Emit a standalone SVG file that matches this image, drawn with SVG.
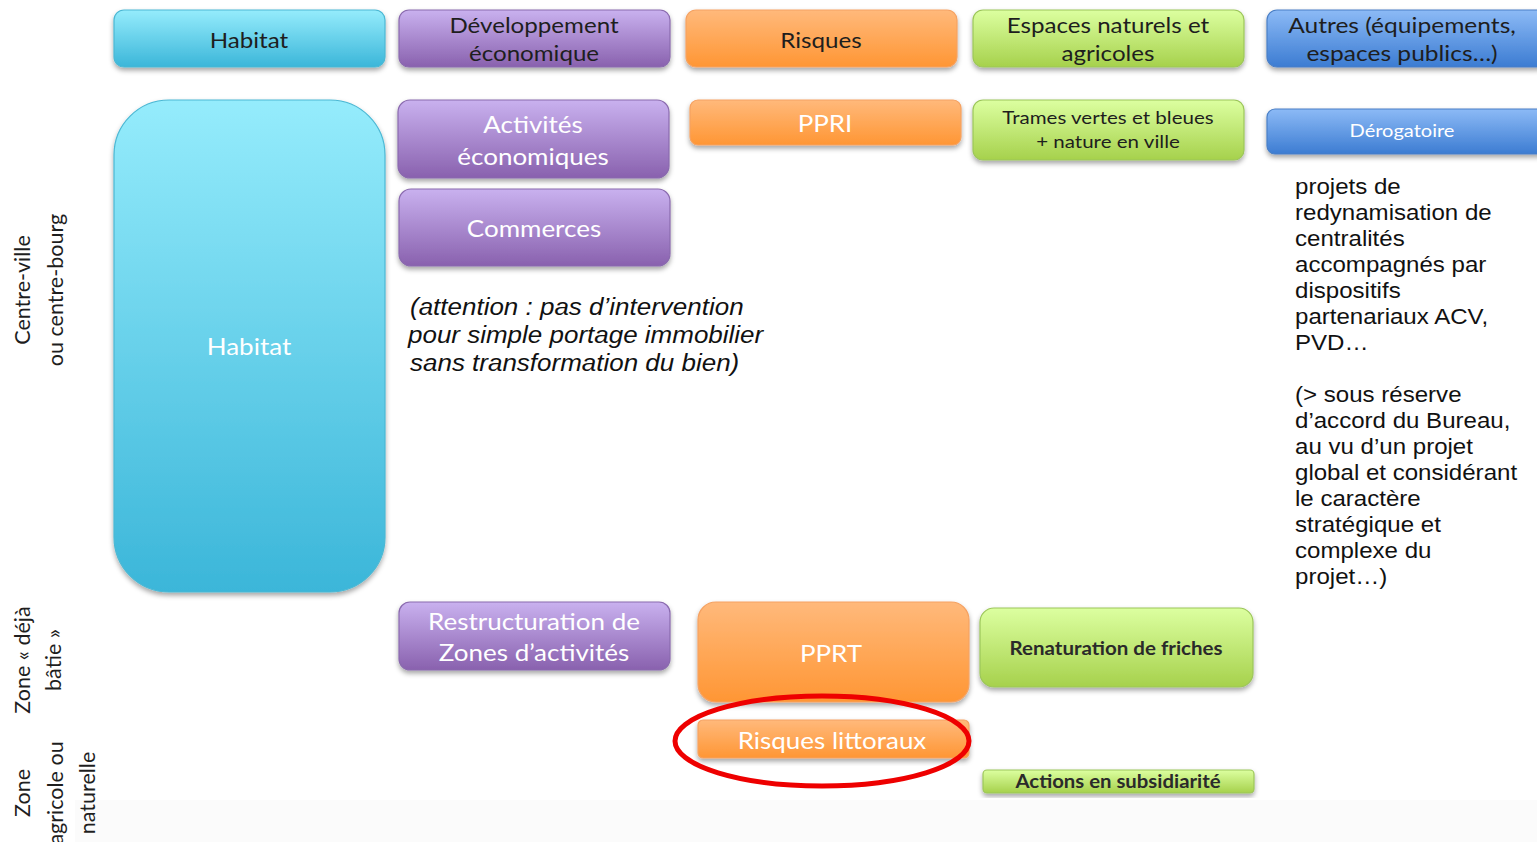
<svg xmlns="http://www.w3.org/2000/svg" width="1537" height="842" viewBox="0 0 1537 842">
<defs>
<linearGradient id="gCyan" x1="0" y1="0" x2="0" y2="1"><stop offset="0" stop-color="#95ecfc"/><stop offset="1" stop-color="#3bb6d9"/></linearGradient>
<linearGradient id="gPurple" x1="0" y1="0" x2="0" y2="1"><stop offset="0" stop-color="#c9b1ef"/><stop offset="1" stop-color="#8961ae"/></linearGradient>
<linearGradient id="gOrange" x1="0" y1="0" x2="0" y2="1"><stop offset="0" stop-color="#ffb97b"/><stop offset="1" stop-color="#ff9634"/></linearGradient>
<linearGradient id="gGreen" x1="0" y1="0" x2="0" y2="1"><stop offset="0" stop-color="#dcffa0"/><stop offset="1" stop-color="#a6d14c"/></linearGradient>
<linearGradient id="gBlue" x1="0" y1="0" x2="0" y2="1"><stop offset="0" stop-color="#8cbaf6"/><stop offset="1" stop-color="#3c7cd2"/></linearGradient>
<filter id="sh" x="-10%" y="-10%" width="120%" height="130%"><feDropShadow dx="0" dy="3" stdDeviation="2.5" flood-color="#000" flood-opacity="0.35"/></filter>
</defs>
<style>
.cy{fill:url(#gCyan);stroke:#4bb8d4;stroke-width:1.2;filter:url(#sh)}
.pu{fill:url(#gPurple);stroke:#8a6aae;stroke-width:1.2;filter:url(#sh)}
.or{fill:url(#gOrange);stroke:#f5a262;stroke-width:1.2;filter:url(#sh)}
.gr{fill:url(#gGreen);stroke:#9cc65a;stroke-width:1.2;filter:url(#sh)}
.bl{fill:url(#gBlue);stroke:#4a7fc6;stroke-width:1.2;filter:url(#sh)}
.t{font-family:Lato,"Open Sans","Liberation Sans",sans-serif;text-anchor:middle;dominant-baseline:central}
.dk{fill:#1e1e1e;font-size:21px}
.wh{fill:#ffffff;font-size:23px}
.side{font-family:Lato,"Open Sans","Liberation Sans",sans-serif;font-size:21.5px;fill:#1e1e1e;text-anchor:middle;dominant-baseline:central}
.note{font-family:"Liberation Sans",Arial,sans-serif;fill:#111;font-size:21.5px}
.note2{font-family:"Liberation Sans",Arial,sans-serif;fill:#111;font-size:23px;font-style:italic}
</style>
<rect x="75" y="800" width="1462" height="42" fill="#fbfbfb"/>

<g id="side-labels">
<text class="side" transform="translate(22,290) rotate(-90)">Centre-ville</text>
<text class="side" transform="translate(55,290) rotate(-90)">ou centre-bourg</text>
<text class="side" transform="translate(22,660) rotate(-90)">Zone « déjà</text>
<text class="side" transform="translate(53,660) rotate(-90)">bâtie »</text>
<text class="side" transform="translate(22,793) rotate(-90)">Zone</text>
<text class="side" transform="translate(55,793) rotate(-90)">agricole ou</text>
<text class="side" transform="translate(87,793) rotate(-90)">naturelle</text>
</g>

<g id="h-habitat"><rect class="cy" x="114" y="10" width="271" height="57" rx="10"/><text class="t dk" transform="translate(249,40) scale(1.15,1)">Habitat</text></g>
<g id="h-dev"><rect class="pu" x="399" y="10" width="271" height="57" rx="10"/><text class="t dk" transform="translate(534,25) scale(1.15,1)">Développement</text><text class="t dk" transform="translate(534,53) scale(1.15,1)">économique</text></g>
<g id="h-risques"><rect class="or" x="686" y="10" width="271" height="57" rx="10"/><text class="t dk" transform="translate(821,40) scale(1.15,1)">Risques</text></g>
<g id="h-espaces"><rect class="gr" x="973" y="10" width="271" height="57" rx="10"/><text class="t dk" transform="translate(1108,25) scale(1.15,1)">Espaces naturels et</text><text class="t dk" transform="translate(1108,53) scale(1.15,1)">agricoles</text></g>
<g id="h-autres"><rect class="bl" x="1267" y="10" width="280" height="57" rx="10"/><text class="t dk" transform="translate(1402,25) scale(1.17,1)">Autres (équipements,</text><text class="t dk" transform="translate(1402,53) scale(1.17,1)">espaces publics…)</text></g>

<g id="habitat"><rect class="cy" x="114" y="100" width="271" height="492" rx="55"/><text class="t wh" transform="translate(249,346) scale(1.13,1)">Habitat</text></g>
<g id="activites"><rect class="pu" x="398" y="100" width="271" height="78" rx="12"/><text class="t wh" transform="translate(533,124) scale(1.13,1)">Activités</text><text class="t wh" transform="translate(533,156) scale(1.13,1)">économiques</text></g>
<g id="commerces"><rect class="pu" x="399" y="189" width="271" height="77" rx="12"/><text class="t wh" transform="translate(534,228) scale(1.13,1)">Commerces</text></g>
<g id="attention">
<text class="note2" transform="translate(410,315) scale(1.13,1)">(attention : pas d’intervention</text>
<text class="note2" transform="translate(408,343) scale(1.13,1)">pour simple portage immobilier</text>
<text class="note2" transform="translate(410,371) scale(1.13,1)">sans transformation du bien)</text>
</g>
<g id="ppri"><rect class="or" x="690" y="100" width="271" height="45" rx="8"/><text class="t wh" transform="translate(825,123) scale(1.13,1)">PPRI</text></g>
<g id="trames"><rect class="gr" x="973" y="100" width="271" height="60" rx="10"/><text class="t" fill="#1e1e1e" font-size="18" transform="translate(1108,117) scale(1.14,1)">Trames vertes et bleues</text><text class="t" fill="#1e1e1e" font-size="18" transform="translate(1108,141) scale(1.14,1)">+ nature en ville</text></g>
<g id="derogatoire"><rect class="bl" x="1267" y="109" width="280" height="45" rx="8"/><text class="t" fill="#ffffff" font-size="17" transform="translate(1402,131) scale(1.18,1)">Dérogatoire</text></g>
<g id="derog-text" class="note">
<text transform="translate(1295,194) scale(1.12,1)">projets de</text>
<text transform="translate(1295,220) scale(1.12,1)">redynamisation de</text>
<text transform="translate(1295,246) scale(1.12,1)">centralités</text>
<text transform="translate(1295,272) scale(1.12,1)">accompagnés par</text>
<text transform="translate(1295,298) scale(1.12,1)">dispositifs</text>
<text transform="translate(1295,324) scale(1.12,1)">partenariaux ACV,</text>
<text transform="translate(1295,350) scale(1.12,1)">PVD…</text>
<text transform="translate(1295,402) scale(1.12,1)">(&gt; sous réserve</text>
<text transform="translate(1295,428) scale(1.12,1)">d’accord du Bureau,</text>
<text transform="translate(1295,454) scale(1.12,1)">au vu d’un projet</text>
<text transform="translate(1295,480) scale(1.12,1)">global et considérant</text>
<text transform="translate(1295,506) scale(1.12,1)">le caractère</text>
<text transform="translate(1295,532) scale(1.12,1)">stratégique et</text>
<text transform="translate(1295,558) scale(1.12,1)">complexe du</text>
<text transform="translate(1295,584) scale(1.12,1)">projet…)</text>
</g>

<g id="restructuration"><rect class="pu" x="399" y="602" width="271" height="68" rx="11"/><text class="t wh" transform="translate(534,621) scale(1.13,1)">Restructuration de</text><text class="t wh" transform="translate(534,652) scale(1.13,1)">Zones d’activités</text></g>
<g id="pprt"><rect class="or" x="698" y="602" width="271" height="100" rx="18"/><text class="t wh" transform="translate(831,653) scale(1.13,1)">PPRT</text></g>
<g id="risques-littoraux"><rect class="or" x="698" y="720" width="271" height="38" rx="5"/><text class="t wh" transform="translate(832,740) scale(1.13,1)">Risques littoraux</text></g>
<g id="renaturation"><rect class="gr" x="980" y="608" width="273" height="79" rx="14"/><text class="t" fill="#2a2a2a" font-size="18" font-weight="bold" transform="translate(1116,648) scale(1.14,1)">Renaturation de friches</text></g>
<g id="actions"><rect class="gr" x="983" y="770" width="271" height="23" rx="4"/><text class="t" fill="#2a2a2a" font-size="18" font-weight="bold" x="1118" y="781" textLength="205" lengthAdjust="spacingAndGlyphs">Actions en subsidiarité</text></g>

<g id="connectors">
<ellipse cx="822" cy="741" rx="147" ry="45" fill="none" stroke="#ee0000" stroke-width="5"/>
</g>
</svg>
